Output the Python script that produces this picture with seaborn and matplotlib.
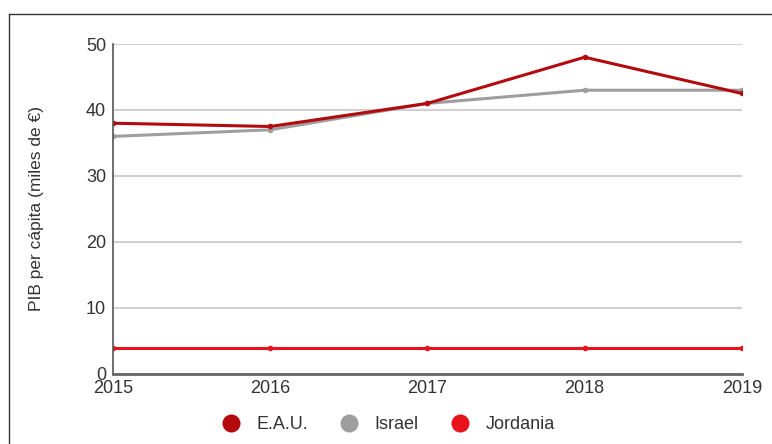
import matplotlib
matplotlib.use("Agg")
import matplotlib.pyplot as plt
from matplotlib.lines import Line2D
import pandas as pd
import seaborn as sns

years = [2015, 2016, 2017, 2018, 2019]
countries = ["E.A.U.", "Israel", "Jordania"]
eau = [38.0, 37.5, 41.0, 48.0, 42.5]
israel = [36.0, 37.0, 41.0, 43.0, 43.0]
jordania = [4.0, 4.0, 4.0, 4.0, 4.0]
colors = ["#b30a0f", "#9e9e9e", "#e8121b"]
y_ticks = [0, 10, 20, 30, 40, 50]

df = pd.DataFrame({
    "year": years * 3,
    "value": eau + israel + jordania,
    "country": [c for c in countries for _ in years],
})

sns.set_theme(style="white")
plt.rcParams["font.family"] = ["Liberation Sans", "DejaVu Sans"]

fig = plt.figure(figsize=(7.72, 4.44), dpi=100)
ax = fig.add_axes([0.1464, 0.1577, 0.8146, 0.7432])

palette = dict(zip(countries, colors))
# draw Jordania first so the upper series stay on top
for name in ["Jordania", "Israel", "E.A.U."]:
    sub = df[df["country"] == name]
    sns.lineplot(data=sub, x="year", y="value", color=palette[name],
                 marker="o", markersize=4, markeredgewidth=0,
                 linewidth=2.2, ax=ax, legend=False)

ax.set_xlim(years[0], years[-1])
ax.set_ylim(0, 50)
ax.set_xticks(years)
ax.set_xticklabels([str(y) for y in years])
ax.set_yticks(y_ticks)
ax.yaxis.grid(True, color="#d0d0d0", linewidth=1.5)
ax.set_axisbelow(True)
for s in ["top", "right"]:
    ax.spines[s].set_visible(False)
ax.spines["left"].set_color("#555555")
ax.spines["left"].set_linewidth(1.2)
ax.spines["bottom"].set_color("#666666")
ax.spines["bottom"].set_linewidth(2.0)
ax.tick_params(axis="both", length=0, labelsize=13, colors="#333333")
ax.tick_params(axis="y", pad=5)
ax.tick_params(axis="x", pad=4)
ax.set_xlabel("")
ax.set_ylabel("PIB per cápita (miles de €)", fontsize=12.5, color="#333333", labelpad=30)

handles = [Line2D([0], [0], marker="o", linestyle="", markersize=13,
                  markerfacecolor=c, markeredgewidth=0) for c in colors]
fig.legend(handles, countries, loc="center", bbox_to_anchor=(0.497, 0.043),
           ncol=3, frameon=False, fontsize=13, handletextpad=0.4,
           columnspacing=1.3, labelcolor="#333333")

# frame lines along the top and left of the figure
fig.add_artist(Line2D([9 / 772, 1.0], [1 - 14 / 444, 1 - 14 / 444],
                      transform=fig.transFigure, color="#333333", linewidth=1))
fig.add_artist(Line2D([9 / 772, 9 / 772], [0.0, 1 - 14 / 444],
                      transform=fig.transFigure, color="#333333", linewidth=1))

fig.savefig("out.png", dpi=100)
